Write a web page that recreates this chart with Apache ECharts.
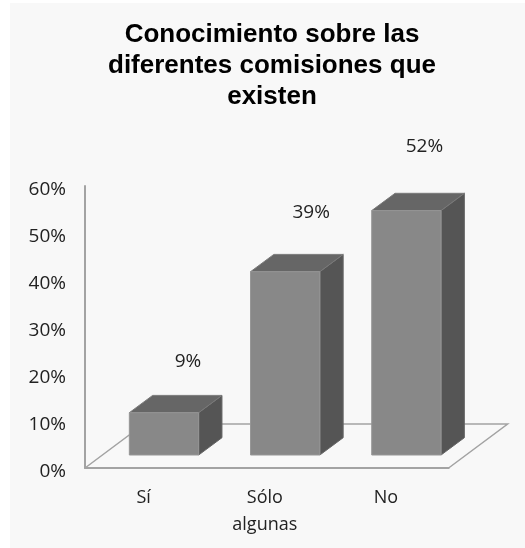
<!DOCTYPE html>
<html>
<head>
<meta charset="utf-8">
<style>
  html, body { margin: 0; padding: 0; background: #fff; }
  #chart { width: 525px; height: 548px; }
</style>
<script src="https://cdn.jsdelivr.net/npm/echarts@6/dist/echarts.min.js"></script>
</head>
<body>
<div id="chart"></div>
<script>
const titleLines = ['Conocimiento sobre las', 'diferentes comisiones que', 'existen'];
const categories = ['Sí', 'Sólo\nalgunas', 'No'];
const percentages = [9, 39, 52];
const valueLabels = ['9%', '39%', '52%'];
const axisMax = 60;
const axisStep = 10;

// Where each value label sits relative to the top of its column
const labelShift = [[24, -51.5], [26, -59], [18, -64.5]];

const FACE = '#888888', TOP = '#666666', SIDE = '#555555', EDGE = '#a3a3a3';
const TEXT = '#222222';
const FONT = '"Open Sans", sans-serif';

// Oblique projection used for the columns and the floor
const barShift = { x: 18.4, y: -13 };
const barDepth = { x: 23.3, y: -17.3 };
const floorDepth = { x: 59, y: -44 };
const barWidthRatio = 0.572;

function poly(points, fill, stroke) {
  return {
    type: 'polygon',
    shape: { points },
    style: { fill, stroke: stroke || fill, lineWidth: 1 }
  };
}

function renderColumn(params, api) {
  const i = api.value(0);
  const v = api.value(1);
  const base = api.coord([i, 0]);
  const top = api.coord([i, v]);
  const w = api.size([1, 0])[0] * barWidthRatio;
  const x0 = base[0] + barShift.x - w / 2;
  const x1 = x0 + w;
  const yB = base[1] + barShift.y;
  const yT = top[1] + barShift.y;
  const dx = barDepth.x, dy = barDepth.y;
  const shift = labelShift[i];
  return {
    type: 'group',
    children: [
      poly([[x1, yB], [x1 + dx, yB + dy], [x1 + dx, yT + dy], [x1, yT]], SIDE, '#666666'),
      poly([[x0, yT], [x0 + dx, yT + dy], [x1 + dx, yT + dy], [x1, yT]], TOP, '#7a7a7a'),
      poly([[x0, yB], [x1, yB], [x1, yT], [x0, yT]], FACE, '#969696'),
      {
        type: 'text',
        style: {
          x: (x0 + x1) / 2 + shift[0],
          y: yT + shift[1],
          text: valueLabels[i],
          fill: TEXT,
          font: '19px ' + FONT,
          align: 'center',
          verticalAlign: 'middle'
        }
      }
    ]
  };
}

function renderFloor(params) {
  const c = params.coordSys;
  const left = c.x, right = c.x + c.width, bottom = c.y + c.height;
  const dx = floorDepth.x, dy = floorDepth.y;
  return {
    type: 'polyline',
    shape: {
      points: [[left, bottom], [left + dx, bottom + dy], [right + dx, bottom + dy], [right, bottom]]
    },
    style: { fill: null, stroke: EDGE, lineWidth: 1.5 }
  };
}

const chart = echarts.init(document.getElementById('chart'), null, { renderer: 'canvas' });
chart.setOption({
  animation: false,
  backgroundColor: '#ffffff',
  graphic: [{
    type: 'rect',
    z: -10,
    shape: { x: 10, y: 3, width: 515, height: 545 },
    style: { fill: '#f8f8f8' }
  }],
  title: {
    text: titleLines.join('\n'),
    left: 267,
    top: 14,
    textAlign: 'center',
    textStyle: {
      fontFamily: '"Liberation Sans", Arial, sans-serif',
      fontWeight: 'bold',
      fontSize: 26,
      lineHeight: 31,
      color: '#000000'
    }
  },
  grid: { left: 85, top: 186, width: 363.6, height: 282, containLabel: false },
  xAxis: {
    type: 'category',
    data: categories,
    axisLine: { show: true, lineStyle: { color: EDGE, width: 2 } },
    axisTick: { show: false },
    axisLabel: {
      color: TEXT,
      fontFamily: FONT,
      fontSize: 18,
      lineHeight: 27,
      margin: 16,
      interval: 0,
      padding: [0, 4, 0, 0]
    }
  },
  yAxis: {
    type: 'value',
    min: 0,
    max: axisMax,
    interval: axisStep,
    splitLine: { show: false },
    axisTick: { show: false },
    axisLine: { show: true, lineStyle: { color: EDGE, width: 2 } },
    axisLabel: {
      formatter: '{t|{value}%}',
      margin: 19,
      rich: {
        t: {
          color: TEXT,
          fontFamily: FONT,
          fontSize: 19,
          padding: [8, 0, 0, 0]
        }
      }
    }
  },
  series: [
    {
      type: 'custom',
      renderItem: renderFloor,
      data: [[0, 0]],
      z: 1,
      silent: true
    },
    {
      type: 'custom',
      renderItem: renderColumn,
      encode: { x: 0, y: 1 },
      data: percentages.map((v, i) => [i, v]),
      z: 2,
      silent: true
    }
  ]
});
</script>
</body>
</html>
